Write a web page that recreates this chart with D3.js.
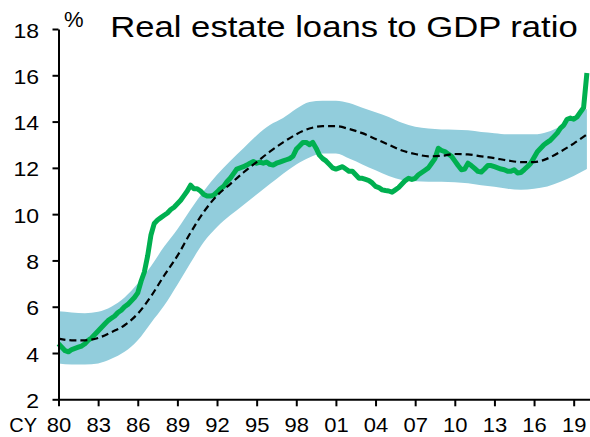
<!DOCTYPE html>
<html><head><meta charset="utf-8">
<script src="https://cdn.jsdelivr.net/npm/d3@7"></script>
<style>body{margin:0;background:#fff}svg{display:block}</style>
</head><body>
<svg id="c" width="590" height="437"></svg>
<script>
const title = "Real estate loans to GDP ratio";
const unitLabel = "%";
const xPrefix = "CY";
const xTickYears = [1980,1983,1986,1989,1992,1995,1998,2001,2004,2007,2010,2013,2016,2019];
const xTickLabels = ["80","83","86","89","92","95","98","01","04","07","10","13","16","19"];
const yTicks = [2,4,6,8,10,12,14,16,18];

const annualYears = [1980,1981,1982,1983,1984,1985,1986,1987,1988,1989,1990,1991,1992,1993,1994,1995,1996,1997,1998,1999,2000,2001,2002,2003,2004,2005,2006,2007,2008,2009,2010,2011,2012,2013,2014,2015,2016,2017,2018,2019,2020];
const trend = [4.62,4.55,4.55,4.65,4.9,5.2,5.7,6.45,7.35,8.2,9.2,10.1,10.8,11.3,11.8,12.25,12.7,13.1,13.45,13.7,13.8,13.8,13.68,13.5,13.25,13.0,12.75,12.6,12.5,12.52,12.6,12.58,12.5,12.42,12.32,12.25,12.25,12.4,12.7,13.05,13.45];
const bandUpper = [5.8,5.75,5.72,5.78,6.0,6.4,7.0,7.75,8.6,9.35,10.2,11.0,11.7,12.3,12.85,13.4,13.85,14.15,14.55,14.85,14.9,14.9,14.8,14.6,14.4,14.2,13.95,13.78,13.7,13.66,13.65,13.62,13.55,13.5,13.45,13.45,13.45,13.55,13.8,14.15,14.55];
const bandLower = [3.55,3.5,3.5,3.55,3.75,4.05,4.55,5.3,6.05,6.95,7.9,8.8,9.45,9.95,10.4,10.85,11.3,11.75,12.15,12.45,12.62,12.62,12.4,12.15,11.9,11.65,11.48,11.42,11.4,11.4,11.38,11.33,11.25,11.18,11.1,11.05,11.1,11.2,11.4,11.65,11.95];

// quarterly ratio, starting 1980 Q1
const ratioStart = 1980;
const ratio = [
 4.4,4.25,4.1,4.05,
 4.15,4.2,4.25,4.3,
 4.4,4.55,4.65,4.8,
 4.95,5.1,5.25,5.4,
 5.5,5.6,5.75,5.85,
 6.0,6.1,6.25,6.4,
 6.6,7.1,7.5,8.2,
 9.1,9.6,9.75,9.85,
 9.95,10.05,10.2,10.3,
 10.45,10.6,10.8,11.0,
 11.25,11.1,11.1,11.0,
 10.85,10.78,10.78,10.82,
 10.95,11.1,11.2,11.4,
 11.55,11.75,11.95,12.0,
 12.05,12.12,12.2,12.27,
 12.2,12.25,12.2,12.25,
 12.15,12.12,12.2,12.25,
 12.3,12.35,12.4,12.5,
 12.8,12.95,13.1,13.1,
 13.0,13.1,12.85,12.55,
 12.4,12.3,12.15,12.0,
 11.95,12.0,12.05,11.95,
 11.85,11.85,11.7,11.55,
 11.55,11.5,11.45,11.35,
 11.2,11.15,11.05,11.02,
 11.0,10.95,11.05,11.15,
 11.3,11.45,11.55,11.5,
 11.55,11.7,11.8,11.9,
 12.0,12.2,12.4,12.85,
 12.75,12.7,12.6,12.5,
 12.3,12.1,11.92,11.95,
 12.2,12.1,11.98,11.85,
 11.82,11.95,12.1,12.1,
 12.05,12.0,11.95,11.92,
 11.85,11.85,11.92,11.78,
 11.8,11.92,12.05,12.2,
 12.45,12.7,12.85,13.0,
 13.1,13.2,13.35,13.5,
 13.72,13.85,14.1,14.15,
 14.1,14.2,14.4,14.6,
 16.1
];

const FONT = "'Liberation Sans', Arial, sans-serif";
const svg = d3.select("#c");
const x = d3.scaleLinear().domain([1980, 2020.25]).range([58.5, 590.2]);
const y = d3.scaleLinear().domain([2, 18]).range([399.3, 29]);

const bandData = annualYears.map((yr, i) => ({yr, lo: bandLower[i], hi: bandUpper[i], t: trend[i]}));
const ratioData = ratio.map((v, i) => ({yr: ratioStart + i / 4, v}));

svg.append("path").datum(bandData)
  .attr("fill", "#92CDDC")
  .attr("d", d3.area().x(d => x(d.yr)).y0(d => y(d.lo)).y1(d => y(d.hi)).curve(d3.curveMonotoneX));

svg.append("path").datum(ratioData)
  .attr("fill", "none").attr("stroke", "#00B050").attr("stroke-width", 5)
  .attr("stroke-linejoin", "round").attr("stroke-linecap", "butt")
  .attr("d", d3.line().x(d => x(d.yr)).y(d => y(d.v)));

svg.append("path").datum(bandData)
  .attr("fill", "none").attr("stroke", "#000").attr("stroke-width", 2.2)
  .attr("stroke-dasharray", "7,4")
  .attr("d", d3.line().x(d => x(d.yr)).y(d => y(d.t)).curve(d3.curveMonotoneX));

// axes
const yAxis = svg.append("g").attr("transform", "translate(58.5,0)")
  .call(d3.axisLeft(y).tickValues(yTicks).tickSize(6).tickSizeOuter(0).tickFormat(d3.format("d")));
const xAxis = svg.append("g").attr("transform", "translate(0,399.3)")
  .call(d3.axisBottom(x).tickValues(xTickYears).tickSize(7).tickSizeOuter(0)
    .tickFormat((d, i) => xTickLabels[i]));

[yAxis, xAxis].forEach(g => {
  g.select(".domain").attr("stroke", "#000").attr("stroke-width", 2);
  g.selectAll(".tick line").attr("stroke", "#000").attr("stroke-width", 2);
  g.selectAll(".tick text").attr("fill", "#000").style("font-family", FONT).style("font-size", "20px");
});
yAxis.selectAll(".tick text").attr("x", -17).attr("dy", "0.4em").attr("transform", "scale(1.15,1)");
xAxis.selectAll(".tick text").attr("y", 32.8).attr("dy", 0).attr("transform", "scale(1.1,1)");

svg.append("text").attr("x", 37).attr("y", 432.1).attr("text-anchor", "end")
  .style("font-family", FONT).style("font-size", "20px").attr("fill", "#000").text(xPrefix);

svg.append("text").attr("x", 64).attr("y", 26.7)
  .style("font-family", FONT).style("font-size", "22px").attr("fill", "#000").text(unitLabel);

svg.append("text").attr("transform", "translate(110.2,36.5) scale(1.156,1)")
  .style("font-family", FONT).style("font-size", "30px").attr("fill", "#000").text(title);
</script>
</body></html>
